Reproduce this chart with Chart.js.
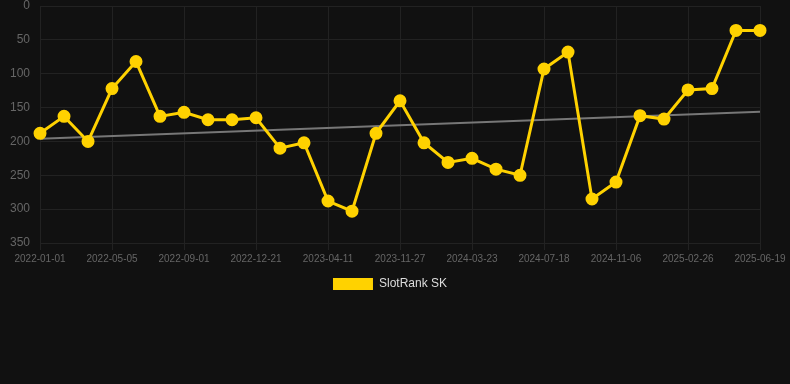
<!DOCTYPE html>
<html>
<head>
<meta charset="utf-8">
<script src="https://cdn.jsdelivr.net/npm/chart.js@4/dist/chart.umd.min.js"></script>
<style>
  html, body { margin: 0; padding: 0; background: #111111; }
  #wrap { width: 790px; height: 300px; position: relative; }
</style>
</head>
<body>
<div id="wrap"><canvas id="rankChart"></canvas></div>
<script>
const dates = [
  '2022-01-01', '2022-02-11', '2022-03-24', '2022-05-05', '2022-06-13', '2022-07-23',
  '2022-09-01', '2022-10-08', '2022-11-14', '2022-12-21', '2023-01-27', '2023-03-05',
  '2023-04-11', '2023-06-26', '2023-09-11', '2023-11-27', '2024-01-05', '2024-02-13',
  '2024-03-23', '2024-05-01', '2024-06-09', '2024-07-18', '2024-08-24', '2024-09-30',
  '2024-11-06', '2024-12-13', '2025-01-19', '2025-02-26', '2025-04-04', '2025-05-12',
  '2025-06-19'
];

const rankSK = [
  188, 163, 200, 122, 82, 163, 157, 168, 168, 165, 210,
  202, 288, 303, 188, 140, 202, 231, 225, 241, 250,
  93, 68, 285, 260, 162, 167, 124, 122, 36, 36
];

// trend line endpoints, gaps in between are spanned
const trendSK = [196];
for (let i = 1; i < dates.length - 1; i++) trendSK.push(null);
trendSK.push(156);

const yTicks = [0, 50, 100, 150, 200, 250, 300, 350];

const ctx = document.getElementById('rankChart').getContext('2d');
const chart = new Chart(ctx, {
  type: 'line',
  data: {
    labels: dates,
    datasets: [{
      label: 'SlotRank SK',
      data: rankSK,
      borderColor: '#FFD200',
      backgroundColor: '#FFD200',
      borderWidth: 3,
      pointRadius: 5,
      pointHoverRadius: 6,
      pointBackgroundColor: '#FFD200',
      pointBorderColor: '#FFD200',
      tension: 0,
      fill: false,
      clip: false
    }, {
      label: 'Trend',
      data: trendSK,
      borderColor: '#777777',
      borderWidth: 2,
      pointRadius: 0,
      spanGaps: true,
      fill: false
    }]
  },
  options: {
    responsive: true,
    maintainAspectRatio: false,
    animation: false,
    layout: { autoPadding: false, padding: { right: 10, top: 0 } },
    plugins: {
      tooltip: { enabled: false },
      legend: {
        position: 'bottom',
        labels: {
          color: '#dddddd',
          boxWidth: 40,
          boxHeight: 12,
          font: { family: 'Liberation Sans, Arial', size: 12 },
          generateLabels: c => Chart.defaults.plugins.legend.labels.generateLabels(c)
            .filter(item => item.datasetIndex === 0)
            .map(item => Object.assign(item, { lineWidth: 0 }))
        }
      }
    },
    scales: {
      x: {
        grid: { color: '#222222', drawTicks: true, tickColor: '#222222', tickLength: 7 },
        border: { color: '#222222' },
        afterFit: axis => { axis.paddingRight = 30; },
        ticks: {
          color: '#666666',
          autoSkip: false,
          maxRotation: 0,
          minRotation: 0,
          font: { family: 'Liberation Sans, Arial', size: 10 },
          callback: function(value, index) {
            return index % 3 === 0 ? this.getLabelForValue(value) : null;
          }
        }
      },
      y: {
        reverse: true,
        min: 0,
        max: 350,
        grid: { color: '#222222', drawTicks: false },
        border: { display: false },
        afterBuildTicks: axis => { axis.ticks = yTicks.map(v => ({ value: v })); },
        afterFit: axis => { axis.paddingTop = 6; },
        ticks: {
          color: '#666666',
          padding: 10,
          font: { family: 'Liberation Sans, Arial', size: 12 }
        }
      }
    }
  }
});
</script>
</body>
</html>
